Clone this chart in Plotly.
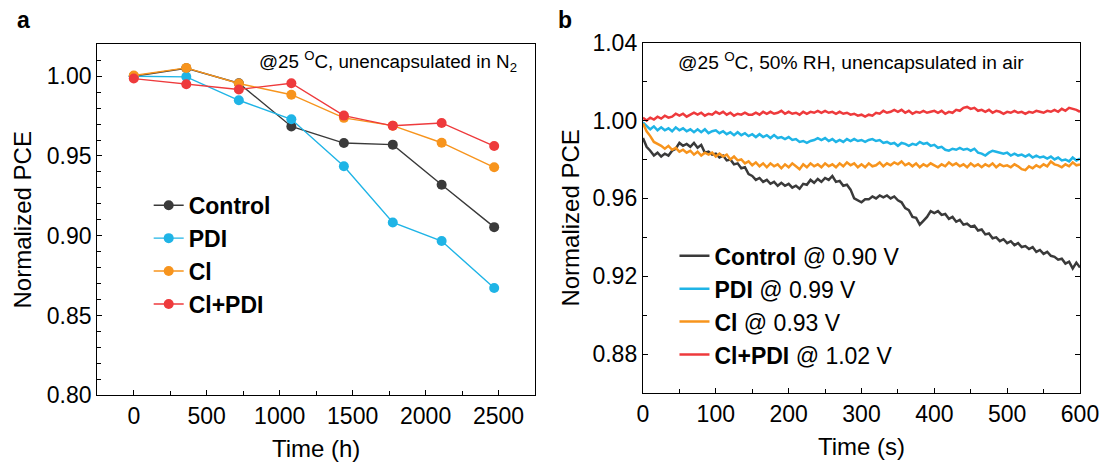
import plotly.graph_objects as go

# ---------------- Panel a data ----------------
time_h = [0, 360, 720, 1080, 1440, 1775, 2110, 2470]
a_control = [1.000, 1.005, 0.9956, 0.9685, 0.9581, 0.9571, 0.9320, 0.9054]
a_pdi = [1.000, 0.9996, 0.9849, 0.9730, 0.9436, 0.9083, 0.8967, 0.8672]
a_cl = [1.0004, 1.0052, 0.9954, 0.9884, 0.9739, 0.9690, 0.9583, 0.9429]
a_clpdi = [0.9985, 0.9950, 0.9917, 0.9956, 0.9753, 0.9689, 0.9707, 0.9562]
a_names = ["Control", "PDI", "Cl", "Cl+PDI"]

# ---------------- Panel b data (sampled every 5 s) ----------------
time_s = list(range(0, 601, 5))
b_control = [
    0.9910, 0.9865, 0.9845, 0.9820, 0.9835, 0.9815, 0.9830, 0.9820, 0.9845, 0.9855,
    0.9885, 0.9870, 0.9880, 0.9865, 0.9885, 0.9860, 0.9875, 0.9835, 0.9840, 0.9825,
    0.9830, 0.9810, 0.9820, 0.9795, 0.9800, 0.9775, 0.9780, 0.9755, 0.9760, 0.9725,
    0.9715, 0.9695, 0.9705, 0.9685, 0.9695, 0.9675, 0.9685, 0.9665, 0.9680, 0.9665,
    0.9675, 0.9655, 0.9665, 0.9650, 0.9675, 0.9670, 0.9695, 0.9680, 0.9700, 0.9685,
    0.9705, 0.9695, 0.9715, 0.9685, 0.9690, 0.9665, 0.9670, 0.9645, 0.9600, 0.9590,
    0.9580, 0.9595, 0.9595, 0.9610, 0.9600, 0.9615, 0.9605, 0.9615, 0.9600, 0.9610,
    0.9590, 0.9580, 0.9550, 0.9540, 0.9505, 0.9500, 0.9465, 0.9485, 0.9505, 0.9535,
    0.9525, 0.9535, 0.9515, 0.9520, 0.9495, 0.9505, 0.9480, 0.9490, 0.9465, 0.9470,
    0.9455, 0.9460, 0.9435, 0.9440, 0.9415, 0.9420, 0.9395, 0.9400, 0.9380, 0.9390,
    0.9370, 0.9380, 0.9360, 0.9370, 0.9350, 0.9355, 0.9340, 0.9350, 0.9325, 0.9335,
    0.9315, 0.9325, 0.9305, 0.9300, 0.9285, 0.9290, 0.9265, 0.9275, 0.9240, 0.9270,
    0.9245,
]
b_pdi = [
    0.9990, 0.9970, 0.9955, 0.9970, 0.9950, 0.9965, 0.9950, 0.9960, 0.9945, 0.9965,
    0.9950, 0.9960, 0.9945, 0.9955, 0.9940, 0.9955, 0.9940, 0.9955, 0.9935, 0.9945,
    0.9950, 0.9935, 0.9945, 0.9930, 0.9940, 0.9925, 0.9940, 0.9925, 0.9935, 0.9920,
    0.9930, 0.9915, 0.9930, 0.9915, 0.9925, 0.9910, 0.9925, 0.9910, 0.9915, 0.9905,
    0.9915, 0.9900, 0.9905, 0.9890, 0.9895, 0.9885, 0.9895, 0.9900, 0.9910, 0.9900,
    0.9910, 0.9895, 0.9905, 0.9890, 0.9900, 0.9890, 0.9905, 0.9895, 0.9905, 0.9895,
    0.9900, 0.9890, 0.9900, 0.9905, 0.9895, 0.9900, 0.9885, 0.9890, 0.9880, 0.9885,
    0.9870, 0.9885, 0.9880, 0.9870, 0.9880, 0.9875, 0.9890, 0.9880, 0.9885, 0.9870,
    0.9875, 0.9860, 0.9865, 0.9850, 0.9845, 0.9855, 0.9850, 0.9860, 0.9850, 0.9855,
    0.9845, 0.9855, 0.9835, 0.9830, 0.9820, 0.9835, 0.9845, 0.9840, 0.9835, 0.9830,
    0.9835, 0.9820, 0.9830, 0.9820, 0.9825, 0.9815, 0.9825, 0.9810, 0.9820, 0.9810,
    0.9815, 0.9805, 0.9815, 0.9800, 0.9810, 0.9795, 0.9800, 0.9790, 0.9810, 0.9795,
    0.9805,
]
b_cl = [
    0.9985, 0.9945, 0.9920, 0.9890, 0.9880, 0.9870, 0.9855, 0.9870, 0.9850, 0.9860,
    0.9840, 0.9850, 0.9835, 0.9845, 0.9825, 0.9840, 0.9820, 0.9835, 0.9825, 0.9835,
    0.9815, 0.9830, 0.9815, 0.9825, 0.9800, 0.9815, 0.9795, 0.9800, 0.9780, 0.9790,
    0.9770, 0.9785, 0.9765, 0.9780, 0.9760, 0.9780, 0.9765, 0.9775, 0.9755, 0.9775,
    0.9760, 0.9780, 0.9765, 0.9750, 0.9775, 0.9760, 0.9780, 0.9765, 0.9775, 0.9760,
    0.9780, 0.9765, 0.9775, 0.9760, 0.9780, 0.9765, 0.9785, 0.9770, 0.9780, 0.9760,
    0.9775, 0.9760, 0.9780, 0.9765, 0.9770, 0.9785, 0.9765, 0.9780, 0.9770, 0.9785,
    0.9775, 0.9790, 0.9770, 0.9780, 0.9765, 0.9780, 0.9760, 0.9775, 0.9765, 0.9780,
    0.9770, 0.9760, 0.9775, 0.9765, 0.9785, 0.9770, 0.9780, 0.9765, 0.9775, 0.9760,
    0.9780, 0.9765, 0.9775, 0.9760, 0.9775, 0.9765, 0.9780, 0.9760, 0.9775, 0.9765,
    0.9770, 0.9760, 0.9775, 0.9765, 0.9750, 0.9745, 0.9765, 0.9755, 0.9770, 0.9760,
    0.9775, 0.9765, 0.9790, 0.9775, 0.9770, 0.9760, 0.9775, 0.9765, 0.9785, 0.9770,
    0.9775,
]
b_clpdi = [
    1.0015, 1.0000, 1.0015, 1.0005, 1.0020, 1.0010, 1.0025, 1.0015, 1.0020, 1.0035,
    1.0025, 1.0035, 1.0020, 1.0030, 1.0040, 1.0030, 1.0040, 1.0025, 1.0035, 1.0030,
    1.0045, 1.0035, 1.0045, 1.0030, 1.0040, 1.0025, 1.0035, 1.0030, 1.0040, 1.0030,
    1.0030, 1.0040, 1.0030, 1.0045, 1.0035, 1.0045, 1.0035, 1.0040, 1.0050, 1.0035,
    1.0045, 1.0035, 1.0040, 1.0030, 1.0045, 1.0035, 1.0045, 1.0040, 1.0050, 1.0040,
    1.0050, 1.0040, 1.0045, 1.0035, 1.0045, 1.0035, 1.0040, 1.0030, 1.0035, 1.0025,
    1.0030, 1.0020, 1.0030, 1.0025, 1.0040, 1.0035, 1.0050, 1.0040, 1.0045, 1.0055,
    1.0045, 1.0055, 1.0040, 1.0050, 1.0035, 1.0045, 1.0040, 1.0050, 1.0040, 1.0045,
    1.0050, 1.0040, 1.0050, 1.0035, 1.0045, 1.0040, 1.0055, 1.0050, 1.0065, 1.0070,
    1.0060, 1.0065, 1.0050, 1.0055, 1.0045, 1.0055, 1.0040, 1.0050, 1.0045, 1.0035,
    1.0045, 1.0040, 1.0050, 1.0040, 1.0045, 1.0035, 1.0045, 1.0040, 1.0050, 1.0045,
    1.0040, 1.0050, 1.0045, 1.0055, 1.0045, 1.0060, 1.0050, 1.0065, 1.0060, 1.0055,
    1.0045,
]
b_names = ["<b>Control</b> @ 0.90 V", "<b>PDI</b> @ 0.99 V",
           "<b>Cl</b> @ 0.93 V", "<b>Cl+PDI</b> @ 1.02 V"]

colors = ["#3a3a3a", "#1fb4e6", "#f7941d", "#ee3a3c"]
FONT = "Liberation Sans, Arial, sans-serif"

fig = go.Figure()

for name, ys, c in zip(a_names, [a_control, a_pdi, a_cl, a_clpdi], colors):
    fig.add_trace(go.Scatter(
        x=time_h, y=ys, mode="lines+markers", name=f"<b>{name}</b>",
        line=dict(color=c, width=1.4),
        marker=dict(color=c, size=10),
        xaxis="x", yaxis="y", legend="legend",
    ))

for name, ys, c in zip(b_names, [b_control, b_pdi, b_cl, b_clpdi], colors):
    fig.add_trace(go.Scatter(
        x=time_s, y=ys, mode="lines", name=name,
        line=dict(color=c, width=2.5),
        xaxis="x2", yaxis="y2", legend="legend2",
    ))

W, H = 1111, 470
ml, mr, mt, mb = 97, 25, 42, 71
pw, ph = W - ml - mr, H - mt - mb


def px_x(px):
    # canvas pixel -> plot-area ("paper") fraction
    return (px - ml) / pw


def px_y(py):
    return (H - mb - py) / ph


def clamp(v):
    return max(0.0, min(1.0, v))


axis_common = dict(
    showline=True, linecolor="black", linewidth=1.3, ticks="inside",
    ticklen=5, tickwidth=1.2, tickcolor="black", showgrid=False,
    zeroline=False, tickfont=dict(size=23, color="black", family=FONT),
)

fig.update_layout(
    width=W, height=H,
    margin=dict(l=ml, r=mr, t=mt, b=mb),
    paper_bgcolor="white", plot_bgcolor="white",
    font=dict(family=FONT, color="black"),
    xaxis=dict(
        domain=[clamp(px_x(97.3)), clamp(px_x(537.7))], anchor="y", range=[-250, 2750],
        tick0=0, dtick=500, mirror=True,
        minor=dict(ticks="inside", dtick=250, tick0=0, ticklen=4, tickcolor="black"),
        title=dict(text="Time (h)", font=dict(size=24), standoff=12),
        **axis_common,
    ),
    yaxis=dict(
        domain=[clamp(px_y(398.3)), clamp(px_y(44.3))], anchor="x", range=[0.80, 1.02],
        tick0=0.80, dtick=0.05, tickformat=".2f", mirror=True,
        minor=dict(ticks="inside", dtick=0.01, tick0=0.80, ticklen=4, tickcolor="black"),
        title=dict(text="Normalized PCE", font=dict(size=24), standoff=8),
        **axis_common,
    ),
    xaxis2=dict(
        domain=[clamp(px_x(646.3)), clamp(px_x(1086))], anchor="y2", range=[0, 600],
        tick0=0, dtick=100, mirror=True,
        minor=dict(ticks="inside", dtick=50, tick0=0, ticklen=4, tickcolor="black"),
        title=dict(text="Time (s)", font=dict(size=24), standoff=12),
        **axis_common,
    ),
    yaxis2=dict(
        domain=[clamp(px_y(396)), clamp(px_y(42.7))], anchor="x2", range=[0.86, 1.04],
        tick0=0.88, dtick=0.04, tickformat=".2f", mirror="ticks",
        minor=dict(ticks="inside", dtick=0.02, tick0=0.88, ticklen=4, tickcolor="black"),
        title=dict(text="Normalized PCE", font=dict(size=24), standoff=6),
        **axis_common,
    ),
    legend=dict(
        x=px_x(149), y=px_y(185), xref="paper", yref="paper",
        xanchor="left", yanchor="top", bgcolor="rgba(0,0,0,0)",
        font=dict(size=23, family=FONT, color="black"), tracegroupgap=0,
    ),
    legend2=dict(
        x=px_x(678), y=px_y(236), xref="paper", yref="paper",
        xanchor="left", yanchor="top", bgcolor="rgba(0,0,0,0)",
        font=dict(size=23, family=FONT, color="black"), tracegroupgap=0,
    ),
    annotations=[
        dict(text="@25 <sup>O</sup>C, unencapsulated in N<sub>2</sub>",
             x=px_x(522), y=px_y(62), xref="paper", yref="paper",
             xanchor="right", yanchor="middle", showarrow=False,
             font=dict(size=18.8, family=FONT, color="black")),
        dict(text="@25 <sup>O</sup>C, 50% RH, unencapsulated in air",
             x=px_x(680), y=px_y(61), xref="paper", yref="paper",
             xanchor="left", yanchor="middle", showarrow=False,
             font=dict(size=19.2, family=FONT, color="black")),
        dict(text="<b>a</b>", x=px_x(23), y=px_y(20), xref="paper", yref="paper",
             xanchor="center", yanchor="middle", showarrow=False,
             font=dict(size=23, family=FONT, color="black")),
        dict(text="<b>b</b>", x=px_x(568), y=px_y(20), xref="paper", yref="paper",
             xanchor="center", yanchor="middle", showarrow=False,
             font=dict(size=23, family=FONT, color="black")),
    ],
)

fig.write_html("out.html")
